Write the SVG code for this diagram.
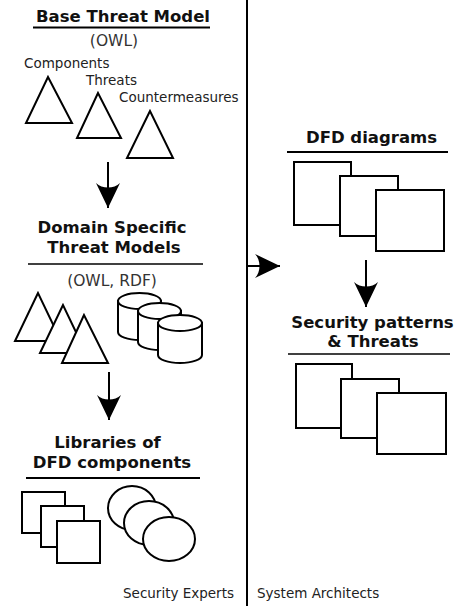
<svg xmlns="http://www.w3.org/2000/svg" width="459" height="606" viewBox="0 0 459 606">
<style>
.t{font-family:"DejaVu Sans",Verdana,sans-serif;font-weight:bold;font-size:16.5px;fill:#111;text-anchor:middle}
.s{font-family:"DejaVu Sans",Verdana,sans-serif;font-size:15.5px;fill:#333;text-anchor:middle}
.l{font-family:"DejaVu Sans",Verdana,sans-serif;font-size:13.5px;fill:#222}
.sh{fill:#fff;stroke:#000;stroke-width:2;stroke-linejoin:miter}
.rule{stroke:#000;stroke-width:2}
.thin{stroke:#000;stroke-width:1.5}
.c{fill:none;stroke:#000;stroke-width:2}
</style>
<defs>
<marker id="dart" markerUnits="userSpaceOnUse" viewBox="0 0 25 24" refX="25" refY="12" markerWidth="25" markerHeight="24" orient="auto">
<path d="M25,12 L0,0 C6,6 6,18 0,24 Z" fill="#000"/>
</marker>
</defs>
<rect width="459" height="606" fill="#fff"/>
<line x1="247" y1="0" x2="247" y2="606" stroke="#000" stroke-width="2"/>

<g id="base-threat-model">
<text class="t" x="123" y="22">Base Threat Model</text>
<line class="rule" x1="33" y1="27.5" x2="210" y2="27.5"/>
<text class="s" x="114" y="46">(OWL)</text>
<text class="l" x="24" y="68">Components</text>
<polygon class="sh" points="48,77 26,123 72,123"/>
<text class="l" x="86" y="85">Threats</text>
<polygon class="sh" points="98,93 77,138 121,138"/>
<text class="l" x="119" y="102">Countermeasures</text>
<polygon class="sh" points="150,111 127,158 173,158"/>
</g>

<g id="domain-specific">
<text class="t" x="112" y="233">Domain Specific</text>
<text class="t" x="114" y="253">Threat Models</text>
<line class="thin" x1="28" y1="264" x2="203" y2="264"/>
<text class="s" x="112" y="286">(OWL, RDF)</text>
<polygon class="sh" points="38,293 15,341 61,341"/>
<polygon class="sh" points="63,305 40,353 86,353"/>
<polygon class="sh" points="84,315 62,363 108,363"/>
<path class="sh" d="M118,301 L118,332 A21.5,8 0 0 0 161,332 L161,301 Z"/>
<ellipse class="sh" cx="139.5" cy="301" rx="21.5" ry="8"/>
<path class="sh" d="M138,311 L138,342 A21.5,8 0 0 0 181,342 L181,311 Z"/>
<ellipse class="sh" cx="159.5" cy="311" rx="21.5" ry="8"/>
<path class="sh" d="M158,323 L158,355 A22,8 0 0 0 202,355 L202,323 Z"/>
<ellipse class="sh" cx="180" cy="323" rx="22" ry="8"/>
</g>

<g id="libraries">
<text class="t" x="107.5" y="448">Libraries of</text>
<text class="t" x="112" y="468">DFD components</text>
<line class="rule" x1="26" y1="478" x2="200" y2="478"/>
<rect class="sh" x="22" y="492" width="43" height="41"/>
<rect class="sh" x="41" y="506" width="43" height="41"/>
<rect class="sh" x="57" y="521" width="43" height="42"/>
<ellipse class="sh" cx="132" cy="508" rx="24" ry="22"/>
<ellipse class="sh" cx="149" cy="523" rx="25" ry="22"/>
<ellipse class="sh" cx="169" cy="539" rx="26" ry="22"/>
<text class="l" x="123" y="598">Security Experts</text>
</g>

<g id="dfd-diagrams">
<text class="t" x="371.5" y="143">DFD diagrams</text>
<line class="rule" x1="287" y1="152" x2="448" y2="152"/>
<rect class="sh" x="294" y="162" width="57" height="63"/>
<rect class="sh" x="340" y="176" width="58" height="60"/>
<rect class="sh" x="376" y="190" width="68" height="61"/>
</g>

<g id="security-patterns">
<text class="t" x="372.5" y="328">Security patterns</text>
<text class="t" x="373" y="347">&amp; Threats</text>
<line class="thin" x1="288" y1="354" x2="450" y2="354"/>
<rect class="sh" x="296" y="364" width="56" height="64"/>
<rect class="sh" x="341" y="379" width="58" height="59"/>
<rect class="sh" x="377" y="393" width="69" height="61"/>
<text class="l" x="257" y="598">System Architects</text>
</g>

<g id="connectors">
<line class="c" x1="108" y1="162" x2="108" y2="208" marker-end="url(#dart)"/>
<line class="c" x1="109" y1="372" x2="109" y2="420" marker-end="url(#dart)"/>
<line class="c" x1="247" y1="266" x2="280" y2="266" marker-end="url(#dart)"/>
<line class="c" x1="366" y1="260" x2="366" y2="307" marker-end="url(#dart)"/>
</g>
</svg>
